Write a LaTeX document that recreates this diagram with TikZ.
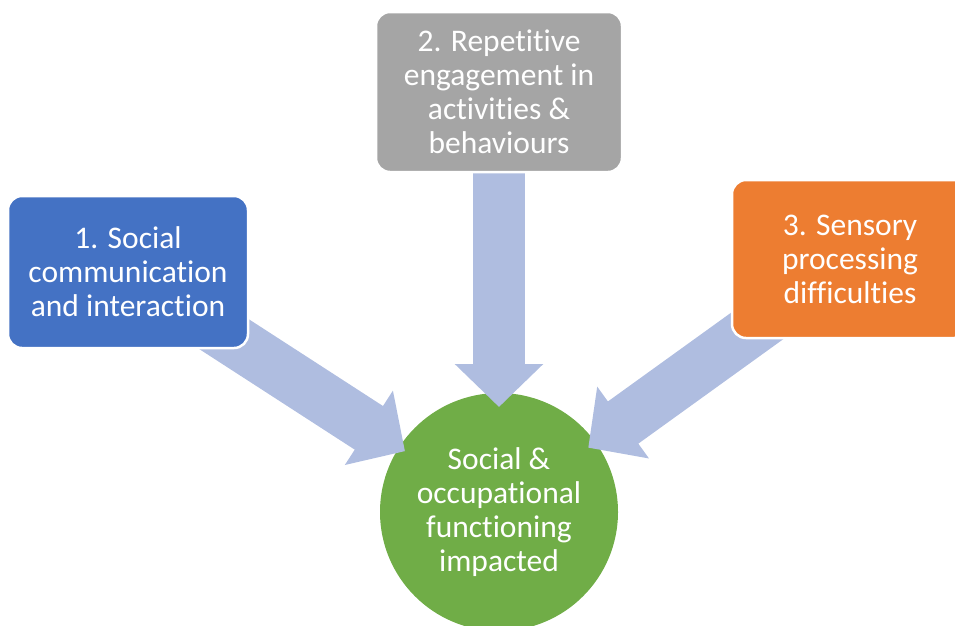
\documentclass[tikz,border=0pt]{standalone}
\usepackage{fontspec}
\setmainfont{Carlito}[Ligatures=NoCommon]
\usetikzlibrary{arrows.meta}

\pgfdeclarelayer{back}
\pgfdeclarelayer{mid}
\pgfsetlayers{back,mid,main}

\definecolor{socblue}{HTML}{4472C4}
\definecolor{repgrey}{HTML}{A5A5A5}
\definecolor{sensorange}{HTML}{ED7D31}
\definecolor{impgreen}{HTML}{70AD47}
\definecolor{fatblue}{HTML}{AFBDE0}

\begin{document}
\begin{tikzpicture}[x=1pt, y=-1pt, font=\fontsize{31.5}{34}\selectfont,
  areabox/.style={rectangle, rounded corners=14pt, draw=white, line width=2.5pt,
    text=white, align=center, inner sep=0pt},
  fatarrow/.style={draw=fatblue, line width=52pt, -{Triangle[width=86pt, length=43pt]}}]

\clip (0,0) rectangle (955,625);

% outcome
\begin{pgfonlayer}{back}
\node[circle, fill=impgreen, minimum size=238pt, inner sep=0pt, text=white, align=center]
  (imp) at (499,512) {Social \&\\occupational\\functioning\\impacted};
\end{pgfonlayer}

% the three areas
\node[areabox, fill=socblue, minimum width=240pt, minimum height=152pt]
  (social) at (128,272) {1. Social\\communication\\and interaction};
\node[areabox, fill=repgrey, minimum width=246pt, minimum height=160pt]
  (repet) at (499,92) {2. Repetitive\\engagement in\\activities \&\\behaviours};
\node[areabox, fill=sensorange, minimum width=236pt, minimum height=158pt]
  (sensory) at (850,259) {3. Sensory\\processing\\difficulties};

% arrows behind the boxes
\begin{pgfonlayer}{mid}
\draw[fatarrow, shorten >=112pt] (social.center) -- (imp.center);
\draw[fatarrow, shorten >=105pt] (repet.center) -- (imp.center);
\draw[fatarrow, shorten >=110pt] (sensory.center) -- (imp.center);
\end{pgfonlayer}

\end{tikzpicture}
\end{document}
